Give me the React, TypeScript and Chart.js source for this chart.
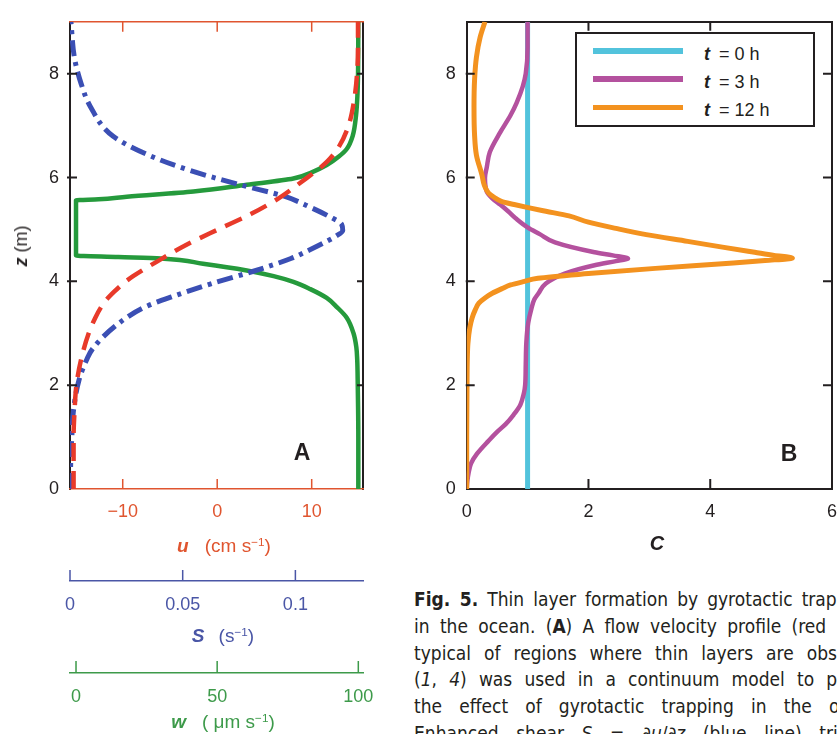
import React, { useEffect, useRef } from "react";
import { Chart, registerables } from "chart.js";
Chart.register(...registerables);

// ---------- Panel A data (z in m) ----------
const zU = [0, 0.5, 1, 1.5, 2, 2.5, 3, 3.3, 3.5, 3.65, 3.8, 3.95, 4.1, 4.4, 4.7, 5.0, 5.3, 5.6, 5.9, 6.3, 6.6, 7.0, 7.5, 8.0, 8.5, 9.0];
const uVals = [-15.2, -15.2, -15.2, -15.1, -14.9, -14.4, -13.6, -12.9, -12.3, -11.7, -10.9, -10.0, -8.9, -6.2, -3.3, 0.1, 3.6, 6.5, 8.8, 11.6, 12.9, 13.9, 14.5, 14.8, 14.9, 14.9];

const zS = [0, 0.5, 1.0, 1.5, 2.1, 2.5, 2.7, 3.17, 3.5, 3.7, 3.96, 4.19, 4.44, 4.6, 4.75, 4.87, 4.98, 5.1, 5.25, 5.42, 5.64, 5.86, 6.14, 6.43, 6.8, 7.37, 7.8, 8.3, 9.0];
const sVals = [0.0002, 0.0003, 0.0008, 0.0015, 0.004, 0.0075, 0.010, 0.021, 0.033, 0.045, 0.063, 0.081, 0.098, 0.106, 0.113, 0.118, 0.121, 0.1205, 0.115, 0.107, 0.095, 0.0755, 0.053, 0.035, 0.019, 0.009, 0.005, 0.002, 0.0004];

const zW = [0, 1, 2, 2.5, 2.73, 3.0, 3.3, 3.5, 3.68, 3.85, 3.99, 4.1, 4.21, 4.34, 4.44, 4.47, 4.5, 5.0, 5.56, 5.58, 5.63, 5.73, 5.86, 5.98, 6.1, 6.24, 6.4, 6.55, 6.8, 7.2, 7.6, 8.0, 9.0];
const wVals = [100, 100, 99.8, 99.6, 99.3, 98.3, 95.9, 92.5, 88.8, 83, 77, 70, 60.5, 45, 30, 15, 0, 0, 0, 8, 18, 41.6, 60.5, 77, 83.5, 88.8, 93, 95.9, 98, 99.2, 99.7, 99.9, 100];

// ---------- Panel B data ----------
const zC0 = [0, 9];
const c0Vals = [1, 1];

const zC3 = [0, 0.15, 0.3, 0.49, 0.68, 0.93, 1.1, 1.25, 1.43, 1.62, 1.85, 2.0, 2.4, 2.83, 3.2, 3.46, 3.65, 3.77, 3.96, 4.15, 4.31, 4.39, 4.44, 4.5, 4.56, 4.75, 4.91, 5.04, 5.2, 5.35, 5.48, 5.6, 5.73, 5.99, 6.2, 6.49, 6.87, 7.2, 7.44, 7.75, 8.0, 8.5, 9.0];
const c3Vals = [0, 0.01, 0.03, 0.07, 0.17, 0.36, 0.5, 0.64, 0.77, 0.88, 0.94, 0.96, 0.97, 0.98, 1.01, 1.06, 1.11, 1.18, 1.3, 1.61, 2.1, 2.45, 2.65, 2.4, 2.1, 1.45, 1.2, 1.0, 0.82, 0.68, 0.55, 0.42, 0.33, 0.3, 0.33, 0.38, 0.55, 0.72, 0.82, 0.92, 0.97, 1.0, 1.0];

const zC12 = [0, 1, 2, 2.5, 2.8, 3.1, 3.3, 3.45, 3.58, 3.68, 3.77, 3.86, 3.93, 4.0, 4.06, 4.15, 4.25, 4.34, 4.4, 4.45, 4.5, 4.56, 4.66, 4.77, 4.9, 5.02, 5.14, 5.26, 5.35, 5.42, 5.48, 5.54, 5.62, 5.7, 5.85, 6.05, 6.43, 6.8, 7.37, 7.9, 8.32, 8.7, 9.0];
const c12Vals = [0, 0, 0.005, 0.01, 0.02, 0.05, 0.09, 0.14, 0.2, 0.3, 0.42, 0.58, 0.72, 0.95, 1.17, 2.0, 3.1, 4.2, 4.9, 5.35, 5.05, 4.73, 4.2, 3.63, 2.95, 2.45, 2.0, 1.68, 1.3, 1.01, 0.78, 0.57, 0.45, 0.36, 0.29, 0.25, 0.16, 0.13, 0.12, 0.13, 0.16, 0.22, 0.30];

// ---------- ticks ----------
const zTicks = [0, 2, 4, 6, 8];
const zInner = [2, 4, 6, 8];
const uTicks = [-10, 0, 10];
const sTicks = [0, 0.05, 0.1];
const wTicks = [0, 50, 100];
const cTicks = [0, 2, 4, 6];
const cInner = [2, 4];

// axis ranges
const Z_MIN = 0, Z_MAX = 9;
const U_MIN = -15.58, U_MAX = 15.43;
const S_MIN = 0, S_MAX = 0.13;
const W_MIN = -2.13, W_MAX = 101.66;
const C_MIN = 0, C_MAX = 6;

const FONT = "'Liberation Sans', Arial, Helvetica, sans-serif";
const DARK = "#231f20";
const RED_AXIS = "#e0552f";
const RED_LINE = "#e83a2a";
const BLUE_AXIS = "#4a56a6";
const BLUE_LINE = "#3b4fb4";
const GREEN_AXIS = "#3d9a4a";
const GREEN_LINE = "#259a3c";
const CYAN = "#52c3dc";
const MAGENTA = "#b4519e";
const ORANGE = "#f3921f";

const pts = (zs: number[], vs: number[]) => zs.map((z, i) => ({ x: vs[i], y: z }));
const fixTicks = (values: number[]) => (scale: any) => {
  scale.ticks = values.map((v) => ({ value: v }));
};
const tickFont = { family: FONT, size: 18 };
const fmtMinus = (v: any) => (Number(v) < 0 ? "\u2212" + Math.abs(Number(v)) : String(v));

type Spec = { id: string; values: number[]; a: number; b: number; color: string; width: number };
const makeTickPlugin = (specs: Spec[]) => ({
  id: "innerTicks",
  afterDraw(chart: any) {
    const ctx = chart.ctx;
    ctx.save();
    for (const s of specs) {
      const scale = chart.scales[s.id];
      if (!scale) continue;
      ctx.strokeStyle = s.color;
      ctx.lineWidth = s.width;
      ctx.beginPath();
      for (const v of s.values) {
        const p = scale.getPixelForValue(v);
        if (scale.isHorizontal()) {
          const base = scale.position === "top" ? scale.bottom : scale.top;
          ctx.moveTo(p, base + s.a);
          ctx.lineTo(p, base + s.b);
        } else {
          const base = scale.position === "left" ? scale.right : scale.left;
          ctx.moveTo(base + s.a, p);
          ctx.lineTo(base + s.b, p);
        }
      }
      ctx.stroke();
    }
    ctx.restore();
  },
});

const noGrid = { display: false, drawTicks: false };

function lineDs(label: string, data: any[], color: string, width: number, xAxisID: string, dash: number[] = []) {
  return {
    label,
    data,
    borderColor: color,
    backgroundColor: color,
    borderWidth: width,
    borderDash: dash,
    pointRadius: 0,
    pointHoverRadius: 0,
    fill: false,
    indexAxis: "y",
    cubicInterpolationMode: "monotone",
    xAxisID,
    yAxisID: "y",
    clip: 0,
  };
}

const Centered = ({ x, y, color, size, rotate, children, weight }: any) => (
  <div
    style={{
      position: "absolute",
      left: x,
      top: y,
      transform: `translate(-50%, -50%)${rotate ? ` rotate(${rotate}deg)` : ""}`,
      color,
      fontSize: size,
      fontWeight: weight,
      whiteSpace: "nowrap",
      lineHeight: 1,
      fontFamily: FONT,
    }}
  >
    {children}
  </div>
);

const Sup = ({ children }: any) => (
  <span style={{ fontSize: "0.62em", position: "relative", top: "-0.55em" }}>{children}</span>
);
const BI = ({ children, mr }: any) => (
  <span style={{ fontWeight: "bold", fontStyle: "italic", marginRight: mr }}>{children}</span>
);

const legendItems = [
  { label: "0 h", color: CYAN },
  { label: "3 h", color: MAGENTA },
  { label: "12 h", color: ORANGE },
];

const captionLines = [
  <><b>Fig. 5.</b> Thin layer formation by gyrotactic trapping</>,
  <>in the ocean. (<b>A</b>) A flow velocity profile (red line)</>,
  <>typical of regions where thin layers are observed</>,
  <>(<i>1</i>, <i>4</i>) was used in a continuum model to predict</>,
  <>the effect of gyrotactic trapping in the ocean.</>,
  <>Enhanced shear <i>S</i> = ∂<i>u</i>/∂<i>z</i> (blue line) triggers</>,
];
const captionWidths = [460, 460, 472, 472, 472, 472];

export default function App() {
  const refA = useRef<HTMLCanvasElement>(null);
  const refB = useRef<HTMLCanvasElement>(null);

  useEffect(() => {
    const chartA = new Chart(refA.current as HTMLCanvasElement, {
      type: "line",
      data: {
        datasets: [
          lineDs("u", pts(zU, uVals), RED_LINE, 4.5, "xu", [18, 10]),
          lineDs("S", pts(zS, sVals), BLUE_LINE, 5, "xs", [16, 6, 4, 6]),
          lineDs("w", pts(zW, wVals), GREEN_LINE, 4.5, "xw"),
        ] as any,
      },
      options: {
        animation: false,
        responsive: false,
        devicePixelRatio: 1,
        events: [],
        layout: { padding: { top: 14, right: 37, left: 0, bottom: 0 } },
        plugins: { legend: { display: false }, tooltip: { enabled: false } },
        scales: {
          y: {
            type: "linear", position: "left", min: Z_MIN, max: Z_MAX, z: 1,
            afterBuildTicks: fixTicks(zTicks),
            afterFit: (s: any) => { s.width = 70; },
            grid: noGrid,
            border: { display: true, color: DARK, width: 2 },
            ticks: { font: tickFont, color: DARK, padding: 11, autoSkip: false },
          },
          yR: {
            type: "linear", position: "right", min: Z_MIN, max: Z_MAX, z: 1,
            afterBuildTicks: fixTicks(zInner),
            afterFit: (s: any) => { s.width = 0; },
            grid: noGrid,
            border: { display: true, color: DARK, width: 2 },
            ticks: { display: false },
          },
          xTop: {
            type: "linear", position: "top", min: U_MIN, max: U_MAX,
            afterBuildTicks: fixTicks(uTicks),
            afterFit: (s: any) => { s.height = 0; },
            grid: noGrid,
            border: { display: true, color: RED_AXIS, width: 1.5 },
            ticks: { display: false },
          },
          xu: {
            type: "linear", position: "bottom", weight: 1, min: U_MIN, max: U_MAX,
            afterBuildTicks: fixTicks(uTicks),
            afterFit: (s: any) => { s.height = 92; },
            grid: noGrid,
            border: { display: true, color: RED_AXIS, width: 1.5 },
            ticks: { font: tickFont, color: RED_AXIS, padding: 12, autoSkip: false, maxRotation: 0, callback: fmtMinus },
          },
          xs: {
            type: "linear", position: "bottom", weight: 2, min: S_MIN, max: S_MAX,
            afterBuildTicks: fixTicks(sTicks),
            afterFit: (s: any) => { s.height = 92; },
            grid: noGrid,
            border: { display: true, color: BLUE_AXIS, width: 1.5 },
            ticks: { font: tickFont, color: BLUE_AXIS, padding: 13, autoSkip: false, maxRotation: 0, callback: (v: any) => String(v) },
          },
          xw: {
            type: "linear", position: "bottom", weight: 3, min: W_MIN, max: W_MAX,
            afterBuildTicks: fixTicks(wTicks),
            afterFit: (s: any) => { s.height = 61; },
            grid: noGrid,
            border: { display: true, color: GREEN_AXIS, width: 1.5 },
            ticks: { font: tickFont, color: GREEN_AXIS, padding: 13, autoSkip: false, maxRotation: 0, callback: (v: any) => String(v) },
          },
        } as any,
      },
      plugins: [
        makeTickPlugin([
          { id: "y", values: zInner, a: -3, b: 7, color: DARK, width: 2 },
          { id: "yR", values: zInner, a: -6, b: 1, color: DARK, width: 2 },
          { id: "xTop", values: uTicks, a: 0, b: 10, color: RED_AXIS, width: 1.5 },
          { id: "xu", values: uTicks, a: -10, b: 0, color: RED_AXIS, width: 1.5 },
          { id: "xs", values: sTicks, a: -11, b: 0, color: BLUE_AXIS, width: 1.5 },
          { id: "xw", values: wTicks, a: -12, b: 0, color: GREEN_AXIS, width: 1.5 },
        ]),
      ],
    } as any);

    const chartB = new Chart(refB.current as HTMLCanvasElement, {
      type: "line",
      data: {
        datasets: [
          lineDs("t = 12 h", pts(zC12, c12Vals), ORANGE, 5, "x"),
          lineDs("t = 3 h", pts(zC3, c3Vals), MAGENTA, 4.5, "x"),
          lineDs("t = 0 h", pts(zC0, c0Vals), CYAN, 5, "x"),
        ] as any,
      },
      options: {
        animation: false,
        responsive: false,
        devicePixelRatio: 1,
        events: [],
        layout: { padding: { top: 14.5, right: 28, left: 0, bottom: 0 } },
        plugins: { legend: { display: false }, tooltip: { enabled: false } },
        scales: {
          y: {
            type: "linear", position: "left", min: Z_MIN, max: Z_MAX, z: 1,
            afterBuildTicks: fixTicks(zTicks),
            afterFit: (s: any) => { s.width = 66.7; },
            grid: noGrid,
            border: { display: true, color: DARK, width: 2 },
            ticks: { font: tickFont, color: DARK, padding: 11, autoSkip: false },
          },
          yR: {
            type: "linear", position: "right", min: Z_MIN, max: Z_MAX, z: 1,
            afterBuildTicks: fixTicks(zInner),
            afterFit: (s: any) => { s.width = 0; },
            grid: noGrid,
            border: { display: true, color: DARK, width: 2 },
            ticks: { display: false },
          },
          xTop: {
            type: "linear", position: "top", min: C_MIN, max: C_MAX, z: 1,
            afterBuildTicks: fixTicks(cInner),
            afterFit: (s: any) => { s.height = 0; },
            grid: noGrid,
            border: { display: true, color: DARK, width: 2 },
            ticks: { display: false },
          },
          x: {
            type: "linear", position: "bottom", min: C_MIN, max: C_MAX, z: 1,
            afterBuildTicks: fixTicks(cTicks),
            afterFit: (s: any) => { s.height = 91; },
            grid: noGrid,
            border: { display: true, color: DARK, width: 2 },
            ticks: { font: tickFont, color: DARK, padding: 12, autoSkip: false, maxRotation: 0 },
          },
        } as any,
      },
      plugins: [
        makeTickPlugin([
          { id: "y", values: zInner, a: -1, b: 8, color: DARK, width: 2 },
          { id: "yR", values: zInner, a: -9, b: 1, color: DARK, width: 2 },
          { id: "xTop", values: cInner, a: 0, b: 9, color: DARK, width: 2 },
          { id: "x", values: cInner, a: -10, b: 0, color: DARK, width: 2 },
        ]),
      ],
    } as any);

    return () => {
      chartA.destroy();
      chartB.destroy();
    };
  }, []);

  return (
    <div
      style={{
        position: "absolute",
        left: 0,
        top: 0,
        width: 837,
        height: 734,
        overflow: "hidden",
        background: "#fff",
        fontFamily: FONT,
      }}
    >
      <canvas ref={refA} width={400} height={734} style={{ position: "absolute", left: 0, top: 0 }} />
      <canvas ref={refB} width={460} height={580} style={{ position: "absolute", left: 400, top: 0 }} />

      {/* axis titles */}
      <Centered x={21} y={246} color={DARK} size={18} rotate={-90}>
        <BI mr={5}>z</BI>(m)
      </Centered>
      <Centered x={224} y={545} color={RED_AXIS} size={19}>
        <BI mr={16}>u</BI>(cm s<Sup>−1</Sup>)
      </Centered>
      <Centered x={223} y={635} color={BLUE_AXIS} size={19}>
        <BI mr={14}>S</BI>(s<Sup>−1</Sup>)
      </Centered>
      <Centered x={223} y={721} color={GREEN_AXIS} size={19}>
        <BI mr={16}>w</BI>( μm s<Sup>−1</Sup>)
      </Centered>
      <Centered x={657} y={543} color={DARK} size={20}>
        <BI>C</BI>
      </Centered>

      {/* panel letters */}
      <Centered x={302} y={452} color={DARK} size={23} weight="bold">A</Centered>
      <Centered x={789} y={453} color={DARK} size={23} weight="bold">B</Centered>

      {/* legend */}
      <div
        style={{
          position: "absolute",
          left: 575,
          top: 32,
          width: 240,
          height: 95,
          boxSizing: "border-box",
          border: `2px solid ${DARK}`,
          background: "#fff",
        }}
      />
      {legendItems.map((it, i) => {
        const cy = 51 + i * 28.3;
        return (
          <React.Fragment key={it.label}>
            <div style={{ position: "absolute", left: 593, top: cy - 2.85, width: 90, height: 5.7, background: it.color }} />
            <div
              style={{
                position: "absolute",
                left: 704,
                top: cy + 2.5,
                transform: "translateY(-50%)",
                fontSize: 18,
                lineHeight: 1,
                color: DARK,
                whiteSpace: "nowrap",
              }}
            >
              <BI mr={9}>t</BI>= {it.label}
            </div>
          </React.Fragment>
        );
      })}

      {/* caption */}
      <div
        style={{
          position: "absolute",
          left: 414,
          top: 586,
          fontFamily: "'DejaVu Sans Condensed', 'DejaVu Sans', sans-serif",
          fontStretch: "condensed",
          fontSize: 19,
          lineHeight: "26.8px",
          color: DARK,
        }}
      >
        {captionLines.map((ln, i) => (
          <div
            key={i}
            style={{ width: captionWidths[i], whiteSpace: "nowrap", textAlign: "justify", textAlignLast: "justify" as any }}
          >
            {ln}
          </div>
        ))}
      </div>
    </div>
  );
}
